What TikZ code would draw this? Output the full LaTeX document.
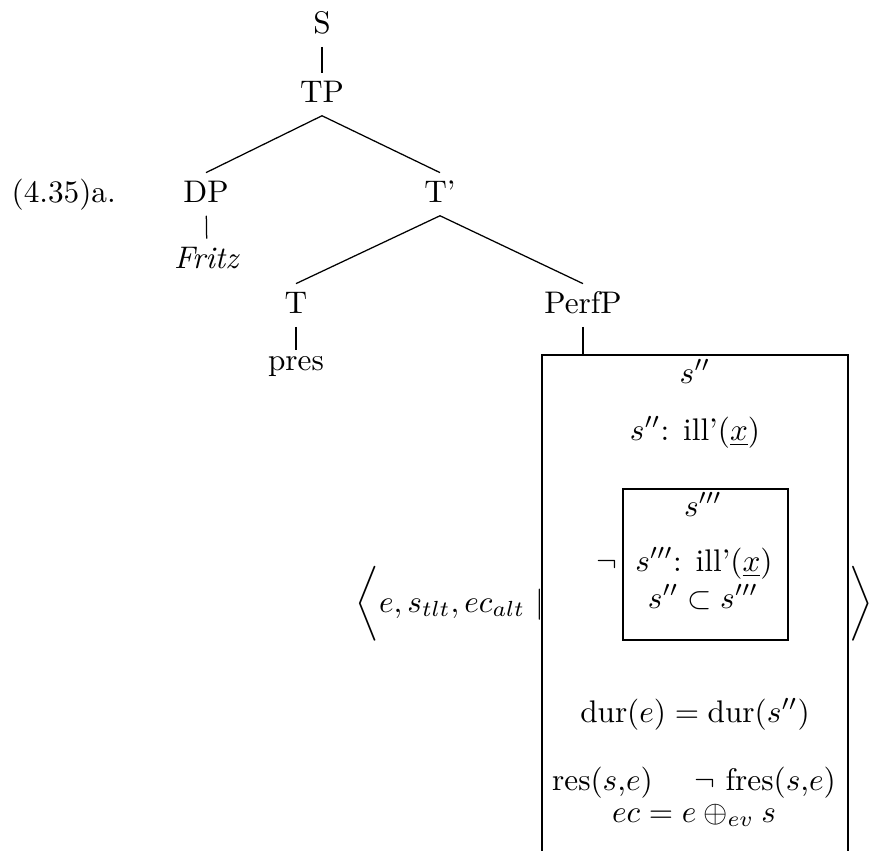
\documentclass[tikz,border=0pt]{standalone}
\usepackage{amsmath}
\usepackage{amsfonts}
\usepackage{tikz}
\usetikzlibrary{positioning,fit}

\begin{document}
\begin{tikzpicture}
		[
			x=0.32pt, y=-0.32pt,
			every node/.style={inner sep=0pt},
			cat/.style={anchor=base, text height=7pt, text depth=2pt, inner sep=2.2pt},
			cond/.style={anchor=base},
			drsbox/.style={draw, rectangle, inner sep=0pt}
		]
		\useasboundingbox (0,0) rectangle (870,851);
		\clip (0,0) rectangle (870,851);

		\node (ex) [anchor=base west] at (11,202) {(4.35)a.};
		\node (s) [cat] at (322,33) {S};
		\node (tp) [cat] at (322,102) {TP};
		\node (dp) [cat] at (206,202) {DP};
		\node (tbar) [cat] at (440,202) {T'};
		\node (fritz) [cat] at (207,268) {\textit{Fritz}};
		\node (t) [cat] at (296,313) {T};
		\node (perfp) [cat] at (583,313) {PerfP};
		\node (pres) [cat, text height=4pt] at (296,370) {pres};

		\node (drs) [drsbox, fit={(542,355) (848,900)}] {};
		\node (negdrs) [drsbox, fit={(623,489) (788,640)}] {};

		\node (top) [cond] at (695,383) {$s''$};
		\node (ill) [cond] at (695,440) {$s''$: ill'(\underline{$x$})};
		\node (reftop) [cond] at (703,516) {$s'''$};
		\node (neg) [cond] at (607,571) {$\neg$};
		\node (illneg) [cond] at (704,571) {$s'''$: ill'(\underline{$x$})};
		\node (incl) [cond] at (703,608) {$s'' \subset s'''$};
		\node (dur) [cond] at (695,722) {$\mathrm{dur}(e) = \mathrm{dur}(s'')$};
		\node (res) [cond] at (694,790) {res($s$,$e$) \quad $\neg$ fres($s$,$e$)};
		\node (ec) [cond] at (694,822) {$ec = e \oplus_{ev} s$};

		\node (tuple) [anchor=base west] at (355,612) {$\bigg\langle e, s_{tlt}, ec_{alt}\ |$};
		\node (close) [cond] at (861,612) {$\bigg\rangle$};

		\draw (s) -- (tp);
		\draw (tp.south) -- (dp.north);
		\draw (tp.south) -- (tbar.north);
		\draw (dp) -- (fritz);
		\draw (tbar.south) -- (t.north);
		\draw (tbar.south) -- (perfp.north);
		\draw (t) -- (pres);
		\draw (perfp.south) -- (perfp.south |- drs.north);
	\end{tikzpicture}
\end{document}
